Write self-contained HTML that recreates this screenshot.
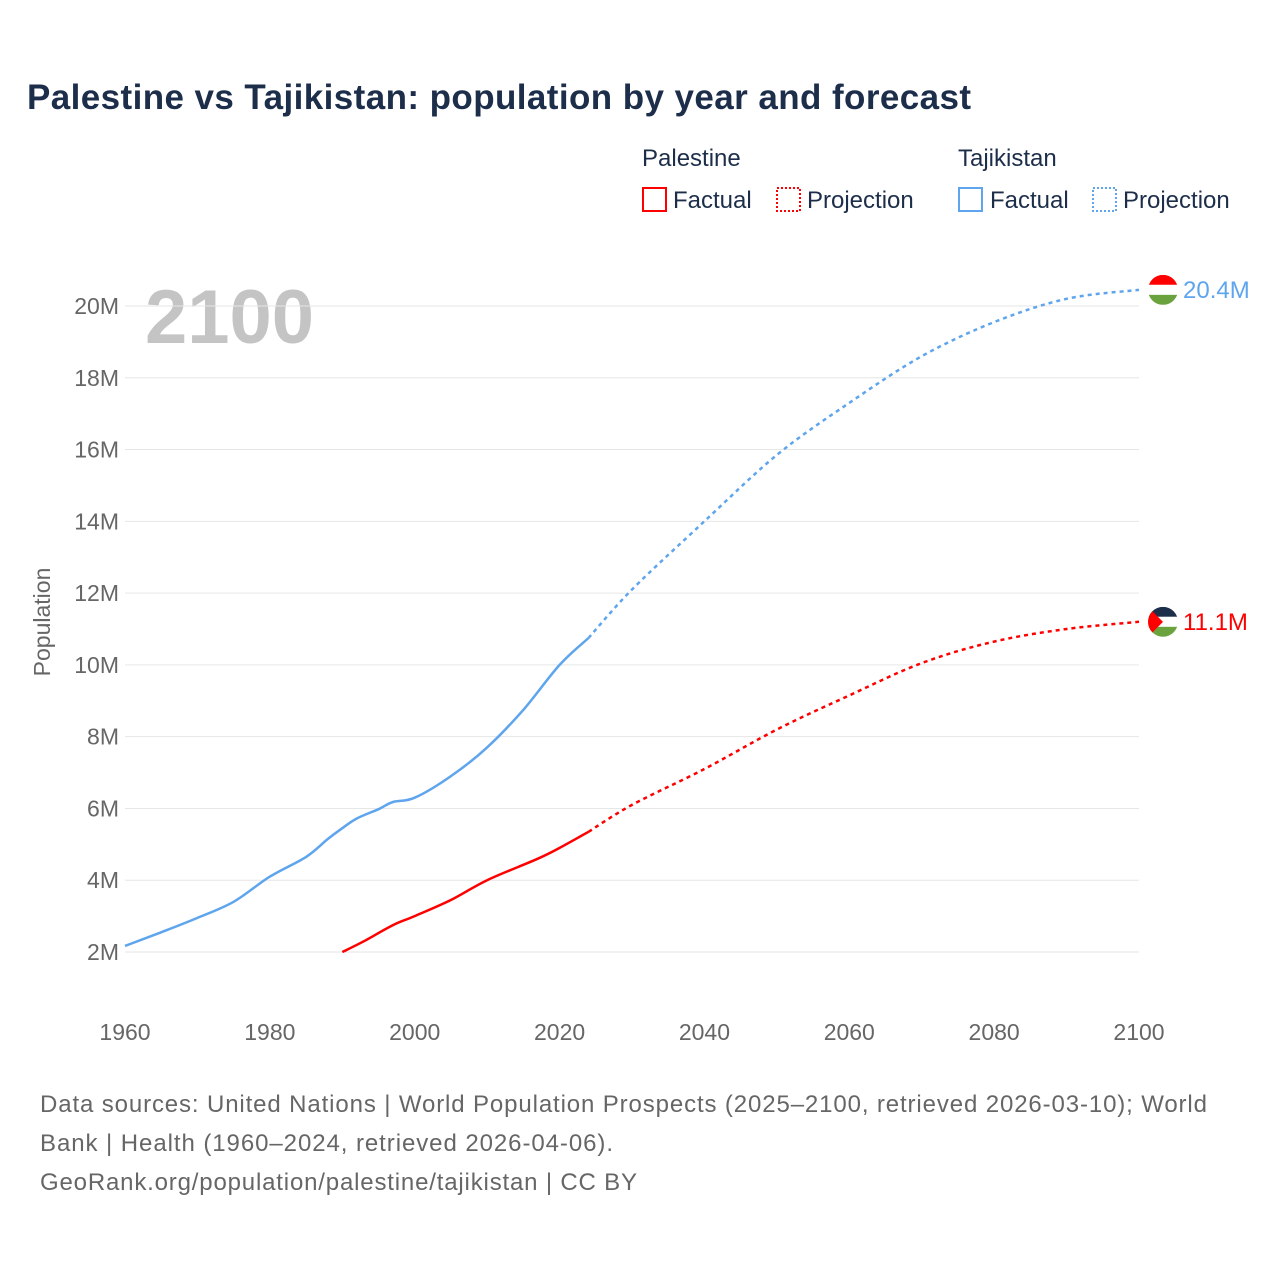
<!DOCTYPE html>
<html><head><meta charset="utf-8"><style>
body{margin:0;background:#fff;font-family:"Liberation Sans",sans-serif;}
svg text{font-family:"Liberation Sans",sans-serif;}
</style></head><body>
<svg id="chart" width="1280" height="1280" xmlns="http://www.w3.org/2000/svg">
<text x="27" y="109" font-size="35" font-weight="bold" fill="#1c2e4a" textLength="944">Palestine vs Tajikistan: population by year and forecast</text>
<g font-size="24" fill="#1c2e4a">
<text x="642" y="166" fill="#1c2e4a">Palestine</text>
<text x="958" y="166" fill="#1c2e4a">Tajikistan</text>
<g><rect x="643" y="188" width="23" height="23" fill="none" stroke="#f00" stroke-width="2"/><text x="673" y="208" fill="#1c2e4a">Factual</text></g>
<g><rect x="777" y="188" width="23" height="23" fill="none" stroke="#f00" stroke-width="2" stroke-dasharray="2,2"/><text x="807" y="208" fill="#1c2e4a">Projection</text></g>
<g><rect x="959" y="188" width="23" height="23" fill="none" stroke="#5ea5ee" stroke-width="2"/><text x="990" y="208" fill="#1c2e4a">Factual</text></g>
<g><rect x="1093" y="188" width="23" height="23" fill="none" stroke="#5ea5ee" stroke-width="2" stroke-dasharray="2,2"/><text x="1123" y="208" fill="#1c2e4a">Projection</text></g>
</g>
<text x="145" y="343" font-size="76" font-weight="bold" fill="#c4c4c4">2100</text>
<g id="grid"></g><g id="axes"></g><g id="series"></g><g id="ends"></g>
<text transform="translate(50,622) rotate(-90)" text-anchor="middle" font-size="23" fill="#666">Population</text>
<g font-size="24" fill="#666">
<text x="40" y="1112" textLength="1167">Data sources: United Nations | World Population Prospects (2025–2100, retrieved 2026-03-10); World</text>
<text x="40" y="1151" textLength="573">Bank | Health (1960–2024, retrieved 2026-04-06).</text>
<text x="40" y="1190" textLength="597">GeoRank.org/population/palestine/tajikistan | CC BY</text>
</g>
</svg>
<script>
const yTicks=[2,4,6,8,10,12,14,16,18,20];
const xTicks=[1960,1980,2000,2020,2040,2060,2080,2100];
const tjkFactYears=[1960,1965,1970,1975,1980,1985,1988,1990,1992,1995,1997,2000,2005,2010,2015,2020,2024];
const tjkFactVals=[2.17,2.55,2.95,3.4,4.1,4.65,5.15,5.45,5.72,5.98,6.18,6.3,6.9,7.7,8.75,10.0,10.75];
const tjkProjYears=[2024,2030,2040,2050,2060,2070,2080,2090,2100];
const tjkProjVals=[10.75,12.1,14.0,15.85,17.3,18.6,19.55,20.2,20.45];
const pseFactYears=[1990,1993,1997,2000,2005,2010,2017,2020,2024];
const pseFactVals=[2.0,2.3,2.75,3.0,3.45,4.0,4.6,4.9,5.35];
const pseProjYears=[2024,2030,2040,2050,2060,2070,2080,2090,2100];
const pseProjVals=[5.35,6.1,7.1,8.2,9.15,10.05,10.65,11.0,11.2];
const endLabels=["20.4M","11.1M"];
const X=y=>125+(y-1960)*(1014/140);
const Y=v=>952-(v-2)*(646/18);
const NS="http://www.w3.org/2000/svg";
function mk(t,p,a){const e=document.createElementNS(NS,t);for(const k in a)e.setAttribute(k,a[k]);document.getElementById(p).appendChild(e);return e;}
yTicks.forEach(v=>{
 const l=mk('line','grid',{x1:125,x2:1139,y1:Y(v),y2:Y(v),stroke:'#e6e6e6','stroke-width':1});
 
 
 const t=mk('text','axes',{x:119,y:Y(v)+8,'text-anchor':'end','font-size':23,fill:'#666'});
 t.textContent=v+'M';
 
 
});
xTicks.forEach(y=>{
 const t=mk('text','axes',{x:X(y),y:1040,'text-anchor':'middle','font-size':23,fill:'#666'});
 t.textContent=y;
 
 
});
function path(ys,vs){
 const P=ys.map((y,i)=>[X(y),Y(vs[i])]);
 let d='M'+P[0][0].toFixed(1)+','+P[0][1].toFixed(1);
 for(let i=0;i<P.length-1;i++){
  const p0=P[Math.max(0,i-1)],p1=P[i],p2=P[i+1],p3=P[Math.min(P.length-1,i+2)];
  const c1=[p1[0]+(p2[0]-p0[0])/6,p1[1]+(p2[1]-p0[1])/6];
  const c2=[p2[0]-(p3[0]-p1[0])/6,p2[1]-(p3[1]-p1[1])/6];
  d+='C'+c1.map(n=>n.toFixed(1)).join(',')+' '+c2.map(n=>n.toFixed(1)).join(',')+' '+p2[0].toFixed(1)+','+p2[1].toFixed(1);
 }
 return d;
}
let p;
p=mk('path','series',{d:path(tjkFactYears,tjkFactVals),fill:'none',stroke:'#5ea5ee','stroke-width':2.5,'stroke-linejoin':'round'});


p=mk('path','series',{d:path(tjkProjYears,tjkProjVals),fill:'none',stroke:'#5ea5ee','stroke-width':2.5,'stroke-dasharray':'4,4'});


p=mk('path','series',{d:path(pseFactYears,pseFactVals),fill:'none',stroke:'#f00','stroke-width':2.5,'stroke-linejoin':'round'});


p=mk('path','series',{d:path(pseProjYears,pseProjVals),fill:'none',stroke:'#f00','stroke-width':2.5,'stroke-dasharray':'4,4'});


const ty=Y(tjkProjVals[tjkProjVals.length-1]), py=Y(pseProjVals[pseProjVals.length-1]);
let g=mk('g','ends',{});


g.innerHTML=`<clipPath id="c1"><circle cx="1163" cy="${ty}" r="15"/></clipPath><g clip-path="url(#c1)"><rect x="1148" y="${ty-15}" width="30" height="10" fill="#f00"/><rect x="1148" y="${ty-5}" width="30" height="10" fill="#fff"/><rect x="1148" y="${ty+5}" width="30" height="10" fill="#6aa33d"/></g>`;
g=mk('g','ends',{});


g.innerHTML=`<clipPath id="c2"><circle cx="1163" cy="${py}" r="15"/></clipPath><g clip-path="url(#c2)"><rect x="1148" y="${py-15}" width="30" height="10" fill="#1c2e4a"/><rect x="1148" y="${py-5}" width="30" height="10" fill="#fff"/><rect x="1148" y="${py+5}" width="30" height="10" fill="#6aa33d"/><path d="M1148,${py-15}L1163,${py}L1148,${py+15}Z" fill="#f00"/></g>`;
let t=mk('text','ends',{x:1183,y:ty+8,'font-size':24,fill:'#5ea5ee'});
t.textContent=endLabels[0];


t=mk('text','ends',{x:1183,y:py+8,'font-size':24,fill:'#f00'});
t.textContent=endLabels[1];


</script>
</body></html>
